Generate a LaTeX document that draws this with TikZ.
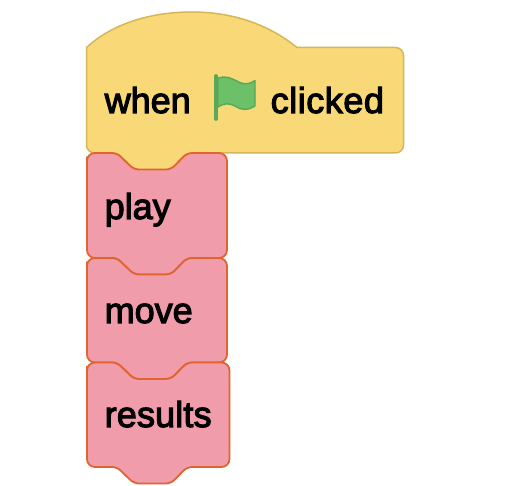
\documentclass[tikz,border=0pt]{standalone}
\usepackage{fontspec}
\setmainfont{Liberation Sans}
\definecolor{hatfill}{HTML}{F9D877}
\definecolor{hatline}{HTML}{D6B656}
\definecolor{blockfill}{HTML}{F19CAB}
\definecolor{blockline}{HTML}{E0642F}
\definecolor{flagfill}{HTML}{6CC068}
\definecolor{flagline}{HTML}{58A858}
\tikzset{
  hatblock/.style={draw=hatline,fill=hatfill,line width=1.5pt,line join=round},
  pinkblock/.style={draw=blockline,fill=blockfill,line width=1.8pt,line join=round},
  label/.style={inner sep=0pt,anchor=base west,text=black,font=\fontsize{36}{40}\selectfont},
}
\newcommand{\medtext}[1]{\special{pdf:code 2 Tr 1.1 w}#1\special{pdf:code 0 Tr 1 w}}
% left, right, top, bottom
\newcommand{\stackblock}[4]{%
  \draw[pinkblock,rounded corners=8pt]
    (#1,#3+12) -- (#1,#3) [rounded corners=5pt] -- (117,#3) -- (134,#3+16.5) -- (171,#3+16.5) -- (187,#3) [rounded corners=8pt] -- (#2,#3)
    -- (#2,#4) [rounded corners=5pt] -- (187,#4) -- (171,#4+16.5) -- (134,#4+16.5) -- (117,#4) [rounded corners=8pt] -- (#1,#4) -- cycle;
}
\begin{document}
\begin{tikzpicture}[x=1pt,y=-1pt]
\useasboundingbox[fill=white] (0,0) rectangle (520,486);
% hat block
\draw[hatblock,rounded corners=8pt]
  (297,47.5) -- (403.5,47.5) -- (403.5,153) -- (187,153) [rounded corners=5pt] -- (171,170) -- (134,170) -- (117,153) [rounded corners=8pt] -- (86.5,153)
  -- (86.5,70) [sharp corners] -- (86.5,47.5)
  .. controls (112,24) and (150,12) .. (192,12)
  .. controls (232,12) and (268,24) .. (297,47.5) -- cycle;
% stack blocks
\stackblock{87}{227}{153}{258}
\stackblock{87}{227}{258}{362.5}
\stackblock{87}{229.5}{362.5}{467}
% flag
\draw[flagline,line width=3.6pt,line cap=round] (216,76) -- (216,119);
\draw[flagline,fill=flagfill,line width=1.4pt,line join=round]
  (218,78) .. controls (228,75) and (234,80) .. (241,83)
  .. controls (247,85) and (251,83) .. (255,80.5)
  -- (255,106) .. controls (247,111) and (241,110) .. (235,106)
  .. controls (229,103) and (224,103) .. (218,107) -- cycle;
% labels
\node[label] (when) at (104.5,113) {\medtext{when}};
\node[label] (clicked) at (270.5,113) {\addfontfeature{LetterSpace=1.5}\medtext{clicked}};
\node[label] (play) at (104.5,219) {\medtext{play}};
\node[label] (move) at (104.5,323) {\medtext{move}};
\node[label] (results) at (104.5,427) {\addfontfeature{LetterSpace=0.4}\medtext{results}};
\end{tikzpicture}
\end{document}
